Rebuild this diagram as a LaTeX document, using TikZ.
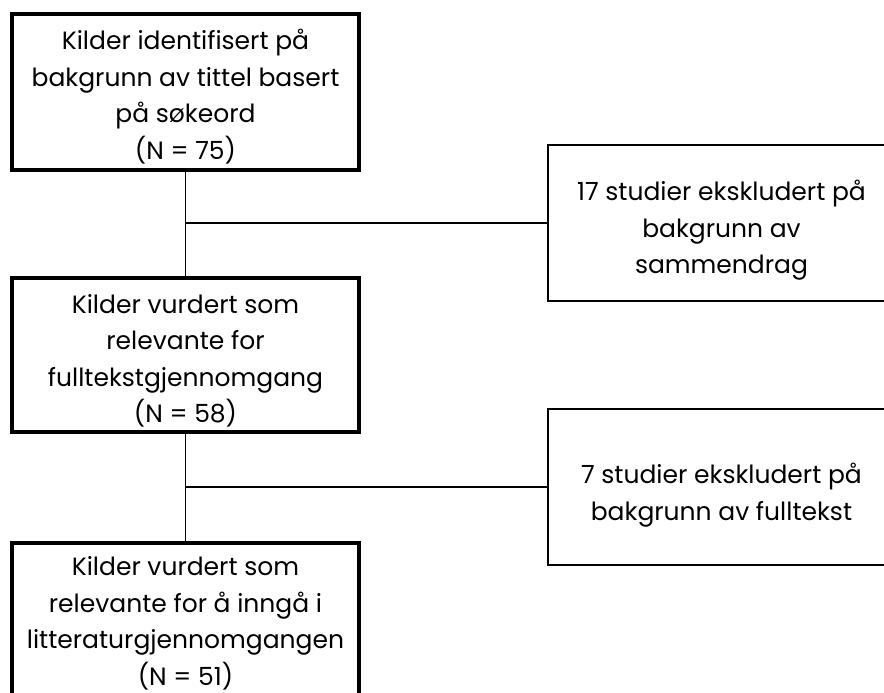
\documentclass[tikz,border=0pt]{standalone}
\usepackage{fontspec}
\setmainfont{Poppins}
\begin{document}
\begin{tikzpicture}[x=1pt,y=-1pt,
  mainbox/.style={draw=black, line width=3.5pt, rectangle, minimum width=347pt, inner sep=0pt},
  sidebox/.style={draw=black, line width=1.8pt, rectangle, minimum width=347pt, minimum height=156pt, inner sep=0pt},
  txt/.style={inner sep=0pt, align=center, font=\fontsize{25}{36.5}\selectfont},
  link/.style={draw=black, line width=1.8pt}]
\useasboundingbox (0,0) rectangle (884,693);
\clip (0,0) rectangle (884,693);
\node[mainbox, minimum height=156pt] (b1) at (185.5,92) {};
\node[mainbox, minimum height=154pt] (b2) at (185.5,355) {};
\node[mainbox, minimum height=157pt] (b3) at (185.5,621.5) {};
\node[sidebox] (s1) at (721.5,223) {};
\node[sidebox] (s2) at (721.5,487) {};
\node[txt] (t1) at ([yshift=-4.5pt]b1.center) {Kilder identifisert på\\bakgrunn av tittel basert\\på søkeord\\(N = 75)};
\node[txt] (t2) at ([yshift=-6pt]b2.center) {Kilder vurdert som\\relevante for\\fulltekstgjennomgang\\(N = 58)};
\node[txt] (t3) at ([yshift=-2pt]b3.center) {Kilder vurdert som\\relevante for å inngå i\\litteraturgjennomgangen\\(N = 51)};
\node[txt] (t4) at ([yshift=-7.5pt]s1.center) {17 studier ekskludert på\\bakgrunn av\\sammendrag};
\node[txt] (t5) at ([yshift=-8pt]s2.center) {7 studier ekskludert på\\bakgrunn av fulltekst};
\coordinate (j1) at (185,223);
\coordinate (j2) at (185,487);
\draw[link] (b1.south) -- (b2.north);
\draw[link] (b2.south) -- (b3.north);
\draw[link] (j1) -- (s1.west);
\draw[link] (j2) -- (s2.west);
\end{tikzpicture}
\end{document}
